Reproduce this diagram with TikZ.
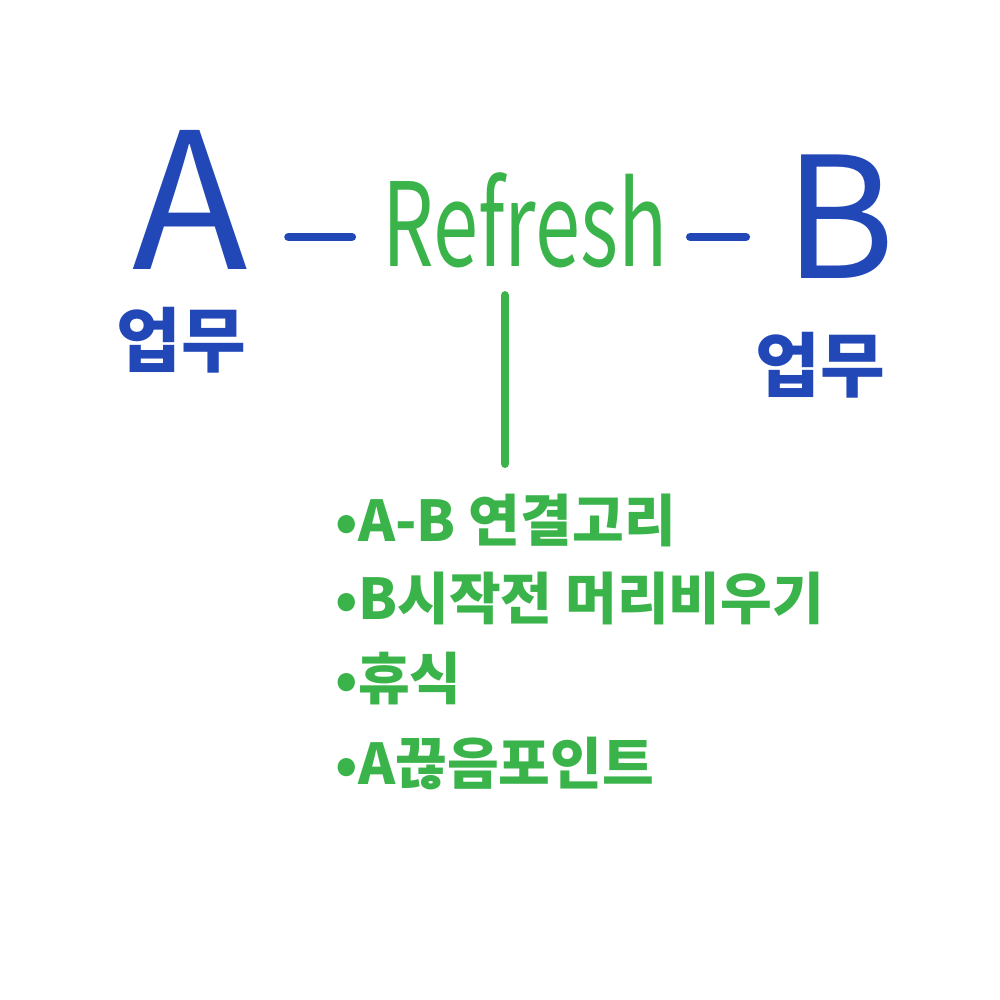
\documentclass[tikz,border=0pt]{standalone}
\usepackage{fontspec}
\setmainfont{Noto Sans CJK KR}
\definecolor{penblue}{RGB}{34,72,184}
\definecolor{pengreen}{RGB}{58,180,74}
\tikzset{
  bluetxt/.style={text=penblue, inner sep=0pt},
  greentxt/.style={text=pengreen, inner sep=0pt},
  pen/.style={line width=2.4pt, line cap=round},
  item/.style={greentxt, anchor=base west, font=\fontsize{16}{16}\selectfont\bfseries}
}
\begin{document}
\begin{tikzpicture}
		\fill[white] (0,0) rectangle (10,10);
		\useasboundingbox (0,0) rectangle (10,10);
		% main words
		\node[bluetxt, font=\fontsize{54}{54}\selectfont] (A) at (1.9,8.0) {A};
		\node[greentxt, font=\fontsize{33}{33}\selectfont] (refresh) at (5.25,7.8) {\scalebox{0.7}[1]{Refresh}};
		\node[bluetxt, font=\fontsize{48}{48}\selectfont] (B) at (8.4,7.83) {B};
		\node[bluetxt, font=\fontsize{20}{20}\selectfont\bfseries] (workA) at (1.81,6.6) {업무};
		\node[bluetxt, font=\fontsize{20}{20}\selectfont\bfseries] (workB) at (8.2,6.35) {업무};
		% list under Refresh
		\node[item] (i1) at (3.35,4.58) {•A-B 연결고리};
		\node[item] (i2) at (3.35,3.8) {•B시작전 머리비우기};
		\node[item] (i3) at (3.35,3.0) {•휴식};
		\node[item] (i4) at (3.35,2.15) {•A끊음포인트};
		% dashes and stem
		\draw[pen, penblue, shorten <=0.4cm, shorten >=0.3cm] ([yshift=-0.17cm]A.east |- refresh.west) -- ([yshift=-0.17cm]refresh.west);
		\draw[pen, penblue, shorten <=0.22cm, shorten >=0.38cm] ([yshift=-0.17cm]refresh.east) -- ([yshift=-0.17cm]B.west |- refresh.east);
		\draw[pen, pengreen, shorten <=0.27cm, shorten >=0.3cm] ([xshift=-0.2cm]refresh.south) -- ([xshift=-0.2cm]refresh.south |- i1.north);
\end{tikzpicture}
\end{document}
